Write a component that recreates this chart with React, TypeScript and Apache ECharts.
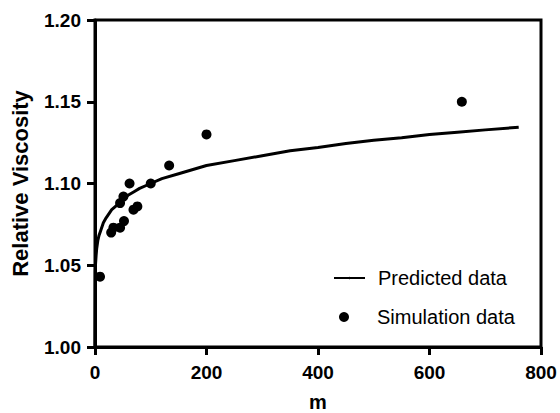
import React, { useEffect, useRef } from "react";
import * as echarts from "echarts";

const simulationM = [9, 29, 33, 45, 52, 45, 51, 62, 69, 76, 100, 133, 200, 658];
const simulationViscosity = [1.043, 1.070, 1.073, 1.073, 1.077, 1.088, 1.092, 1.100, 1.084, 1.086, 1.100, 1.111, 1.130, 1.150];

const predictedM = [0, 0.5, 1, 2, 3, 5, 7, 10, 15, 20, 30, 40, 50, 60, 70, 80, 100, 120, 150, 200, 250, 300, 350, 400, 450, 500, 550, 600, 650, 700, 760];
const predictedViscosity = [1.0, 1.046, 1.051, 1.056, 1.060, 1.065, 1.068, 1.071, 1.076, 1.079, 1.084, 1.087, 1.090, 1.093, 1.095, 1.097, 1.100, 1.103, 1.106, 1.111, 1.114, 1.117, 1.120, 1.122, 1.1245, 1.1265, 1.128, 1.130, 1.1314, 1.1328, 1.1344];

const xTicks = [0, 200, 400, 600, 800];
const yTicks = [1.0, 1.05, 1.1, 1.15, 1.2];

const FONT = "'Liberation Sans', Arial, Helvetica, sans-serif";

export default function App() {
  const ref = useRef<HTMLDivElement>(null);
  useEffect(() => {
    if (!ref.current) return;
    const chart = echarts.init(ref.current, null, { renderer: "svg" });
    const axisCommon = {
      axisLine: { show: true, lineStyle: { color: "#000", width: 3 } },
      axisTick: { show: true, inside: false, length: 8, lineStyle: { color: "#000", width: 3 } },
      splitLine: { show: false },
    };
    chart.setOption({
      animation: false,
      backgroundColor: "#fff",
      grid: {
        left: 95,
        right: 19,
        top: 20,
        bottom: 66,
        containLabel: false,
        outerBoundsMode: "none",
        show: true,
        borderColor: "#000",
        borderWidth: 3,
        backgroundColor: "transparent",
      },
      xAxis: {
        type: "value",
        min: xTicks[0],
        max: xTicks[xTicks.length - 1],
        interval: 200,
        name: "m",
        nameLocation: "middle",
        nameGap: 45,
        nameTextStyle: { fontFamily: FONT, fontWeight: "bold", fontSize: 20, color: "#000" },
        axisLabel: { margin: 16, fontFamily: FONT, fontWeight: "bold", fontSize: 19, color: "#000" },
        ...axisCommon,
      },
      yAxis: {
        type: "value",
        min: yTicks[0],
        max: yTicks[yTicks.length - 1],
        interval: 0.05,
        name: "Relative Viscosity",
        nameLocation: "middle",
        nameGap: 64,
        nameRotate: 90,
        nameTextStyle: { fontFamily: FONT, fontWeight: "bold", fontSize: 22, color: "#000" },
        axisLabel: {
          margin: 14,
          fontFamily: FONT,
          fontWeight: "bold",
          fontSize: 19,
          color: "#000",
          formatter: (v: number) => v.toFixed(2),
        },
        ...axisCommon,
      },
      legend: [
        {
          data: ["Predicted data"],
          orient: "vertical",
          left: 328,
          top: 263,
          itemWidth: 31,
          itemHeight: 3,
          textStyle: { fontFamily: FONT, fontSize: 20, color: "#000", padding: [0, 0, 0, 8] },
          selectedMode: false,
        },
        {
          data: [{ name: "Simulation data", icon: "circle" }],
          orient: "vertical",
          left: 334,
          top: 302,
          itemWidth: 10,
          itemHeight: 10,
          textStyle: { fontFamily: FONT, fontSize: 20, color: "#000", padding: [0, 0, 0, 23] },
          selectedMode: false,
        },
      ],
      series: [
        {
          name: "Predicted data",
          type: "line",
          data: predictedM.map((m, i) => [m, predictedViscosity[i]]),
          symbol: "none",
          smooth: false,
          lineStyle: { color: "#000", width: 3 },
          itemStyle: { color: "#000" },
          z: 3,
        },
        {
          name: "Simulation data",
          type: "scatter",
          data: simulationM.map((m, i) => [m, simulationViscosity[i]]),
          symbol: "circle",
          symbolSize: 10,
          itemStyle: { color: "#000", opacity: 1 },
          z: 4,
        },
      ],
    });
    return () => chart.dispose();
  }, []);
  return (
    <div
      ref={ref}
      style={{ position: "fixed", left: 0, top: 0, width: 560, height: 413, background: "#fff" }}
    />
  );
}
